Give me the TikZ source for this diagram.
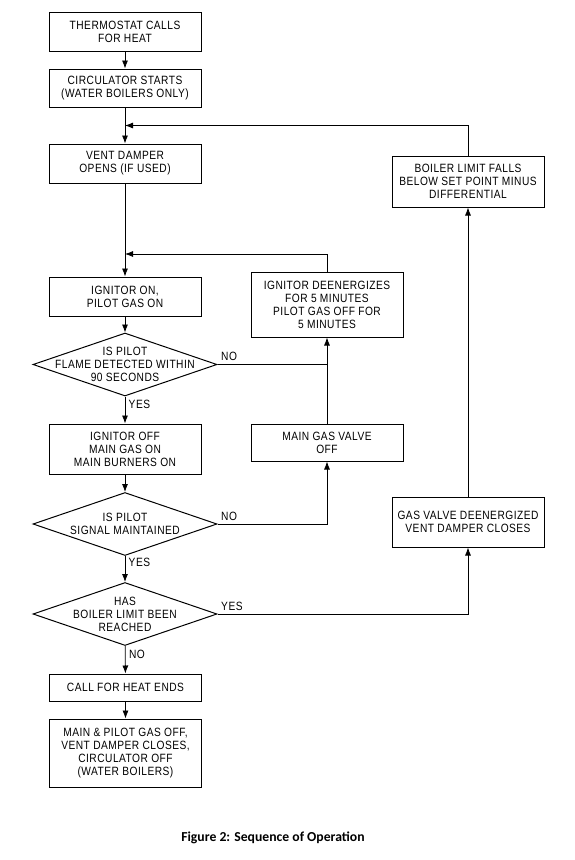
\documentclass[tikz,border=0pt]{standalone}
\usepackage{fontspec}
\setmainfont{Liberation Sans}[FakeStretch=0.85,LetterSpace=4]
\newfontfamily\capfont{Carlito}
\usetikzlibrary{arrows.meta,shapes.geometric}
\begin{document}
\begin{tikzpicture}
  [x=1pt,y=-1pt,>={Latex[length=8pt,width=6pt]},
   every node/.style={font=\fontsize{12}{13}\selectfont,align=center},
   box/.style={draw,line width=1pt,minimum width=152pt,inner sep=0pt},
   decide/.style={draw,diamond,line width=1pt,minimum width=184pt,minimum height=63pt,inner sep=0pt},
   flow/.style={line width=0.8pt}]

  \useasboundingbox (0,0) rectangle (575,860);

  \node[box,minimum height=39pt] (therm) at (125,31.5) {THERMOSTAT CALLS\\FOR HEAT};
  \node[box,minimum height=38pt] (circ) at (125,88) {CIRCULATOR STARTS\\(WATER BOILERS ONLY)};
  \node[box,minimum height=39pt] (vent) at (125,163.5) {VENT DAMPER\\OPENS (IF USED)};
  \node[box,minimum height=39pt] (ignon) at (125,296.5) {IGNITOR ON,\\PILOT GAS ON};
  \node[decide,label={center:IS PILOT\\FLAME DETECTED WITHIN\\90 SECONDS}] (dflame) at (125,364.5) {};
  \node[box,minimum height=50pt] (ignoff) at (125,449) {IGNITOR OFF\\MAIN GAS ON\\MAIN BURNERS ON};
  \node[decide,label={center:IS PILOT\\SIGNAL MAINTAINED}] (dsignal) at (125,524) {};
  \node[decide,label={center:HAS\\BOILER LIMIT BEEN\\REACHED}] (dlimit) at (125,614) {};
  \node[box,minimum height=27pt] (callend) at (125.5,687.5) {CALL FOR HEAT ENDS};
  \node[box,minimum height=68pt] (mainoff) at (125.5,753) {MAIN \& PILOT GAS OFF,\\VENT DAMPER CLOSES,\\CIRCULATOR OFF\\(WATER BOILERS)};

  \node[box,minimum height=65pt] (deenerg) at (327,304.5) {IGNITOR DEENERGIZES\\FOR 5 MINUTES\\PILOT GAS OFF FOR\\5 MINUTES};
  \node[box,minimum height=37pt] (mgvoff) at (327,442.5) {MAIN GAS VALVE\\OFF};
  \node[box,minimum height=50pt] (gvclose) at (468,522) {GAS VALVE DEENERGIZED\\VENT DAMPER CLOSES};
  \node[box,minimum height=51pt] (limfalls) at (468,181.5) {BOILER LIMIT FALLS\\BELOW SET POINT MINUS\\DIFFERENTIAL};

  \coordinate (j1) at (125,125.5);
  \coordinate (j2) at (125,254);
  \coordinate (k1) at (327,364.5);

  \node[font={\capfont\bfseries\fontsize{13.7}{16}\selectfont}] (caption) at (273,838) {Figure 2: Sequence of Operation};

  \foreach \from/\to in {therm/circ,circ/vent,vent/ignon,ignon/dflame,ignoff/dsignal,callend/mainoff}
    \draw[flow,->] (\from) -- (\to);
  \path[draw,flow,->]
     (dflame) edge node[pos=.3,right,name=yes1] {YES} (ignoff)
     (dsignal) edge node[pos=.26,right,name=yes2] {YES} (dlimit)
     (dlimit) edge node[pos=.31,right,name=no3] {NO} (callend)
     (mgvoff) edge (deenerg)
     (gvclose) edge (limfalls);

  \draw[flow] (dflame.east) -- node[pos=0,above right,name=no1] {NO} (k1);
  \draw[flow,->] (dsignal.east) -| node[pos=0,above right,name=no2] {NO} (mgvoff.south);
  \draw[flow,->] (dlimit.east) -| node[pos=0,above right,name=yes3] {YES} (gvclose.south);
  \draw[flow,->] (deenerg.north) |- (j2);
  \draw[flow,->] (limfalls.north) |- (j1);
\end{tikzpicture}
\end{document}
